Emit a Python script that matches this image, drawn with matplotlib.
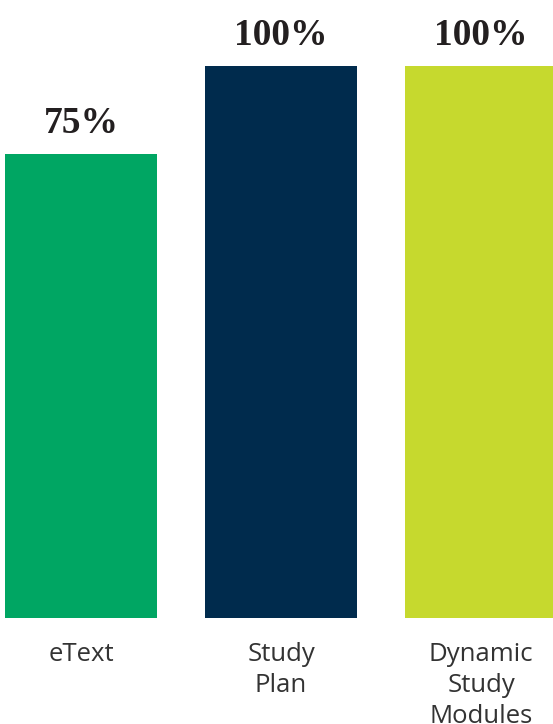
import numpy as np
import matplotlib.pyplot as plt

categories = ["eText", "Study\nPlan", "Dynamic\nStudy\nModules"]
values = np.array([75, 100, 100])
labels = ["75%", "100%", "100%"]
colors = ["#00A663", "#002B4D", "#C6D92E"]

# bars in the original do not start from zero
base = -56.8

fig = plt.figure(figsize=(5.53, 7.24), dpi=100)
ax = fig.add_axes([0, (724 - 618) / 724, 1, 618 / 724])

x = np.arange(len(categories))
ax.bar(x, values - base, bottom=base, width=0.76, color=colors)
ax.set_xlim(-0.405, 2.36)
ax.set_ylim(base, 100 + 66 * (100 - base) / 552)
ax.axis("off")

for xi, v, lab in zip(x, values, labels):
    ax.annotate(lab, xy=(xi, v), xytext=(0, 15), textcoords="offset points",
                ha="center", va="baseline", fontsize=27, fontweight="bold",
                family="Liberation Serif", color="#231F20")

for xi, cat in zip(x, categories):
    ax.annotate(cat, xy=(xi, 0), xycoords=("data", "axes fraction"),
                xytext=(0, -17), textcoords="offset points",
                ha="center", va="top", fontsize=18.5, family="Open Sans",
                color="#333333", linespacing=1.32)

fig.savefig("out.png", dpi=100)
